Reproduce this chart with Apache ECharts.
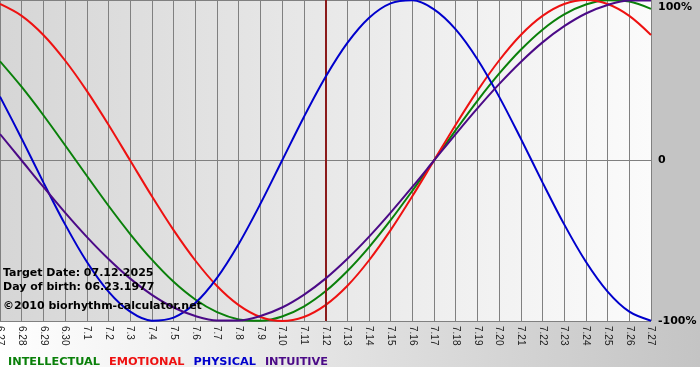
<!DOCTYPE html>
<html>
<head>
<meta charset="utf-8">
<script src="https://cdn.jsdelivr.net/npm/echarts@6/dist/echarts.min.js"></script>
<style>
html,body{margin:0;padding:0;background:#fff;}
#chart{width:700px;height:380px;}
</style>
</head>
<body>
<div id="chart"></div>
<script>
// Dates on the x axis
const dates = ['6.27','6.28','6.29','6.30','7.1','7.2','7.3','7.4','7.5','7.6','7.7','7.8','7.9','7.10','7.11','7.12','7.13','7.14','7.15','7.16','7.17','7.18','7.19','7.20','7.21','7.22','7.23','7.24','7.25','7.26','7.27'];
const targetDate = '7.12';
const infoLines = ['Target Date: 07.12.2025', 'Day of birth: 06.23.1977', '\u00A92010 biorhythm-calculator.net'];
const yTicks = {'100': '100%', '0': '0', '-100': '-100%'};

// Percent values, one per day
const intellectual = [61.8, 45.8, 28.2, 9.5, -9.5, -28.2, -45.8, -61.8, -75.6, -86.6, -94.5, -99.0, -99.9, -97.2, -91.0, -81.5, -69.0, -54.1, -37.2, -18.9, 0, 18.9, 37.2, 54.1, 69.0, 81.5, 91.0, 97.2, 99.9, 99.0, 94.5];
const emotional = [97.5, 90.1, 78.2, 62.3, 43.4, 22.3, 0, -22.3, -43.4, -62.3, -78.2, -90.1, -97.5, -100, -97.5, -90.1, -78.2, -62.3, -43.4, -22.3, 0, 22.3, 43.4, 62.3, 78.2, 90.1, 97.5, 100, 97.5, 90.1, 78.2];
const physical = [39.8, 13.6, -13.6, -39.8, -63.1, -81.7, -94.2, -99.8, -97.9, -88.8, -73.1, -52.0, -27.0, 0, 27.0, 52.0, 73.1, 88.8, 97.9, 99.8, 94.2, 81.7, 63.1, 39.8, 13.6, -13.6, -39.8, -63.1, -81.7, -94.2, -99.8];
const intuitive = [16.5, 0, -16.5, -32.5, -47.6, -61.4, -73.6, -83.7, -91.6, -96.9, -99.7, -99.7, -96.9, -91.6, -83.7, -73.6, -61.4, -47.6, -32.5, -16.5, 0, 16.5, 32.5, 47.6, 61.4, 73.6, 83.7, 91.6, 96.9, 99.7, 99.7];

const names = ['INTELLECTUAL', 'EMOTIONAL', 'PHYSICAL', 'INTUITIVE'];
const colors = ['#0a800a', '#ee1111', '#0000cc', '#4b0a87'];
const values = [intellectual, emotional, physical, intuitive];

const chart = echarts.init(document.getElementById('chart'), null, {renderer: 'canvas'});
const boldFont = 'DejaVu Sans';

const series = names.map((n, i) => ({
  name: n,
  type: 'line',
  data: values[i],
  symbol: 'none',
  smooth: 0.33,
  z: 3 + i,
  lineStyle: {color: colors[i], width: 2},
  itemStyle: {color: colors[i]},
  silent: true
}));
series[0].markLine = {
  silent: true,
  symbol: 'none',
  label: {show: false},
  lineStyle: {color: '#8b1a1a', width: 2, type: 'solid'},
  data: [{xAxis: targetDate}]
};

chart.setOption({
  animation: false,
  backgroundColor: '#ffffff',
  graphic: [
    {type: 'rect', z: -100, silent: true, shape: {x: 651, y: 0, width: 49, height: 321}, style: {fill: '#c4c4c4'}},
    {type: 'rect', z: -100, silent: true, shape: {x: 0, y: 321, width: 700, height: 46},
      style: {fill: new echarts.graphic.LinearGradient(0, 0, 1, 0, [{offset: 0, color: '#ffffff'}, {offset: 1, color: '#c4c4c4'}])}},
    ...infoLines.map((t, i) => ({
      type: 'text', z: 100, silent: true, left: 3, top: [268, 282, 301][i],
      style: {text: t, font: 'bold 11px "DejaVu Sans"', fill: '#000'}
    }))
  ],
  grid: {
    left: 0, right: 49, top: 0, bottom: 59,
    outerBoundsMode: 'none',
    containLabel: false,
    show: true,
    borderWidth: 0,
    backgroundColor: new echarts.graphic.LinearGradient(0, 0, 1, 0, [{offset: 0, color: '#d6d6d6'}, {offset: 1, color: '#fbfbfb'}])
  },
  legend: {
    left: 3, top: 355,
    padding: 0,
    icon: 'none',
    itemWidth: 0, itemHeight: 14, itemGap: 4,
    selectedMode: false,
    textStyle: {fontFamily: boldFont, fontWeight: 'bold', fontSize: 11.3},
    data: names.map((n, i) => ({name: n, textStyle: {color: colors[i]}}))
  },
  xAxis: {
    type: 'category',
    data: dates,
    boundaryGap: false,
    axisLine: {show: true, lineStyle: {color: '#808080', width: 1}},
    axisTick: {show: true, length: 4, interval: 0, lineStyle: {color: '#808080'}},
    splitLine: {show: true, interval: 0, lineStyle: {color: '#808080', width: 1}},
    axisLabel: {
      interval: 0, rotate: -90, margin: 5, hideOverlap: false,
      fontFamily: 'Liberation Sans', fontSize: 10, color: '#222'
    }
  },
  yAxis: {
    type: 'value',
    position: 'right',
    min: -100, max: 100, interval: 100,
    axisLine: {show: false},
    axisTick: {show: false},
    splitLine: {show: true, lineStyle: {color: '#808080', width: 1}},
    axisLabel: {
      margin: 7,
      color: '#000',
      fontFamily: boldFont, fontWeight: 'bold', fontSize: 11,
      formatter: v => v === 100 ? '{t|' + yTicks[String(v)] + '}' : yTicks[String(v)],
      rich: {t: {padding: [14, 0, 0, 0], fontFamily: boldFont, fontWeight: 'bold', fontSize: 11, color: '#000'}}
    }
  },
  series: series
});
</script>
</body>
</html>
